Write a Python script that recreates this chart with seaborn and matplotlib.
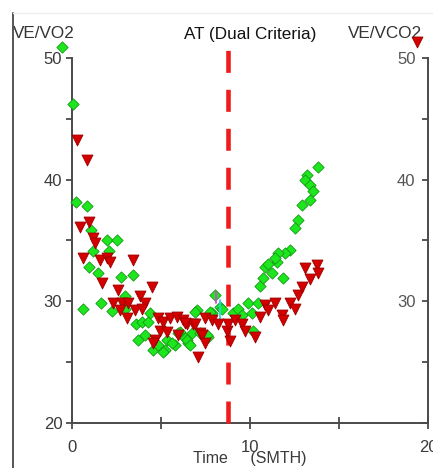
import numpy as np
import pandas as pd
import matplotlib
matplotlib.use("Agg")
import matplotlib.pyplot as plt
from matplotlib.lines import Line2D
import seaborn as sns

# ---------------- data ----------------
vo2_time = [-0.56, 0.06, 0.22, 0.84, 1.07, 1.97, 2.53, 1.18, 2.08, 0.96,
            1.46, 2.75, 3.43, 0.62, 1.63, 2.25, 2.98, 3.60, 3.93, 4.38,
            4.27, 3.71, 4.10, 4.55, 4.83, 5.22, 5.34, 5.79, 6.07, 6.35,
            2.98, 5.11, 5.62, 5.96, 6.52, 6.74, 7.02, 7.64, 7.87, 8.31,
            9.04, 6.91, 7.75, 8.03, 8.43, 6.46, 6.63, 7.19, 7.58, 9.33,
            9.55, 9.89, 10.11, 10.45, 10.17, 10.56, 10.73, 10.84, 11.24, 11.52,
            11.85, 13.82, 13.20, 13.09, 13.37, 13.54, 13.37, 12.92, 12.70, 12.53,
            12.25, 11.97, 11.57, 11.40, 11.01]
vo2_value = [50.9, 46.2, 38.2, 37.8, 35.9, 35.0, 35.0, 34.1, 34.1, 32.8,
             32.3, 32.0, 32.2, 29.4, 29.9, 29.2, 30.4, 28.1, 28.3, 29.0,
             28.3, 26.8, 27.2, 26.0, 26.4, 26.0, 26.8, 26.4, 27.5, 27.0,
             29.4, 25.8, 26.6, 27.4, 26.6, 27.4, 29.3, 27.1, 29.0, 29.5,
             29.0, 29.1, 29.1, 30.5, 29.4, 26.8, 26.4, 27.4, 27.2, 29.4,
             28.9, 29.9, 29.0, 29.9, 27.6, 31.3, 31.9, 32.8, 32.3, 33.2,
             31.9, 41.0, 40.4, 40.0, 39.6, 39.1, 38.3, 37.9, 36.7, 36.0,
             34.2, 34.0, 34.0, 33.6, 33.1]

vco2_time = [19.38, 0.28, 0.84, 0.45, 0.96, 1.18, 1.29, 0.62, 1.57, 1.97,
             2.13, 3.43, 1.69, 2.58, 4.49, 2.30, 2.81, 3.15, 3.82, 4.10,
             2.70, 3.09, 3.54, 3.93, 4.83, 5.11, 5.51, 5.90, 6.24, 4.94,
             5.34, 4.66, 5.96, 6.46, 4.55, 7.08, 7.47, 7.87, 8.71, 8.88,
             6.80, 7.19, 6.35, 6.91, 7.30, 7.47, 8.20, 8.76, 9.16, 9.55,
             9.72, 10.28, 10.56, 10.84, 11.40, 11.01, 11.80, 11.85, 12.25, 12.53,
             12.70, 12.92, 13.09, 13.37, 13.76, 13.82]
vco2_value = [51.3, 43.3, 41.6, 36.1, 36.5, 35.2, 34.8, 33.6, 33.4, 33.6,
              33.2, 33.4, 31.5, 30.9, 31.2, 29.9, 29.9, 29.9, 30.4, 29.9,
              29.3, 28.6, 29.3, 29.4, 28.6, 28.3, 28.6, 28.7, 28.5, 27.6,
              27.5, 26.8, 27.2, 28.1, 26.6, 25.4, 28.6, 28.5, 27.6, 26.7,
              28.1, 27.4, 28.2, 28.1, 27.2, 26.6, 28.1, 28.1, 28.5, 28.1,
              27.6, 27.1, 28.7, 29.7, 29.9, 29.3, 28.9, 28.5, 29.9, 29.4,
              30.5, 31.2, 32.7, 31.8, 33.0, 32.3]

at_time = 8.76
at_range = [20, 50.7]
cyan_mark_time = 8.31
cyan_mark_range = [28.1, 30.1]
magenta_mark_time = 8.09
magenta_mark_range = [29.9, 30.8]

x_ticks = [0, 10, 20]
x_minor = [5, 15]
y_ticks_left = [20, 30, 40, 50]
y_ticks_right = [30, 40, 50]
y_minor = [25, 35, 45]

title_text = "AT (Dual Criteria)"
left_label = "VE/VO2"
right_label = "VE/VCO2"
x_label = "Time     (SMTH)"

# ---------------- plot ----------------
sns.set_style("white")
plt.rcParams["font.family"] = ["Liberation Sans", "DejaVu Sans"]

fig = plt.figure(figsize=(4.33, 4.68), dpi=100)
ax = fig.add_axes([72 / 433, 45 / 468, 356 / 433, 365 / 468])
ax2 = ax.twinx()

df_vo2 = pd.DataFrame({"t": vo2_time, "v": vo2_value})
df_vco2 = pd.DataFrame({"t": vco2_time, "v": vco2_value})

sns.scatterplot(data=df_vo2, x="t", y="v", ax=ax, marker="D", s=33,
                color="#1ee61e", edgecolor="#139a13", linewidth=0.6,
                clip_on=False, zorder=3)
sns.scatterplot(data=df_vco2, x="t", y="v", ax=ax2, marker="v", s=62,
                color="#d40000", edgecolor="#9a0000", linewidth=0.6,
                clip_on=False, zorder=3)

ax.plot([at_time, at_time], at_range, color="#f01c1c", lw=3.3,
        linestyle=(0, (4.8, 3.7)), solid_capstyle="butt", dash_capstyle="butt",
        clip_on=False, zorder=4)
ax.plot([cyan_mark_time, cyan_mark_time], cyan_mark_range, color="#22d8e8",
        lw=1.3, zorder=5)
ax.plot([magenta_mark_time, magenta_mark_time], magenta_mark_range,
        color="#e040e0", lw=1.3, zorder=5)

for a in (ax, ax2):
    a.set_xlim(0, 20)
    a.set_ylim(20, 50)
    a.set_xlabel("")
    a.set_ylabel("")
    for s in a.spines.values():
        s.set_visible(False)

spine_col = "#4a4a4a"
ax.spines["left"].set_visible(True)
ax.spines["bottom"].set_visible(True)
ax2.spines["right"].set_visible(True)
for s in (ax.spines["left"], ax.spines["bottom"], ax2.spines["right"]):
    s.set_color(spine_col)
    s.set_linewidth(1.4)

ax.set_xticks(x_ticks)
ax.set_xticks(x_minor, minor=True)
ax.set_yticks(y_ticks_left)
ax.set_yticks(y_minor, minor=True)
ax2.set_yticks(y_minor + y_ticks_left)
ax2.set_yticklabels(["" if v not in y_ticks_right else str(v)
                     for v in (y_minor + y_ticks_left)])

lab_col = "#3a3a3a"
ax.tick_params(axis="x", which="major", direction="inout", length=9, width=1.3,
               color=spine_col, labelsize=12, pad=8, labelcolor=lab_col,
               bottom=True)
ax.tick_params(axis="x", which="minor", direction="inout", length=9, width=1.3,
               color=spine_col, bottom=True)
ax.tick_params(axis="y", which="both", direction="out", length=4, width=1.3,
               color=spine_col, labelsize=12, pad=3, labelcolor=lab_col,
               left=True)
ax2.tick_params(axis="y", which="both", direction="in", length=4, width=1.3,
                color=spine_col, labelsize=12, pad=-9, labelcolor="#555555",
                right=True)
for lbl in ax2.get_yticklabels():
    lbl.set_horizontalalignment("right")

ax.set_title(title_text, fontsize=12.3, color="#111111", pad=14)
ax.set_xlabel(x_label, fontsize=11.5, color=lab_col, labelpad=-3)

ax.set_ylabel(left_label, rotation=0, fontsize=12.3, color="#333333",
              ha="left", va="center")
ax.yaxis.set_label_coords(-0.166, 1.068)
ax2.set_ylabel(right_label, rotation=0, fontsize=12.3, color="#333333",
               ha="right", va="center")
ax2.yaxis.set_label_coords(0.982, 1.068)

# frame decorations
fig.add_artist(Line2D([13 / 433, 13 / 433], [0, 455 / 468],
                      transform=fig.transFigure, color="#555555", lw=1.4))
fig.add_artist(Line2D([13 / 433, 1], [455 / 468, 455 / 468],
                      transform=fig.transFigure, color="#eeeeee", lw=1.0))

fig.savefig("out.png", dpi=100)
